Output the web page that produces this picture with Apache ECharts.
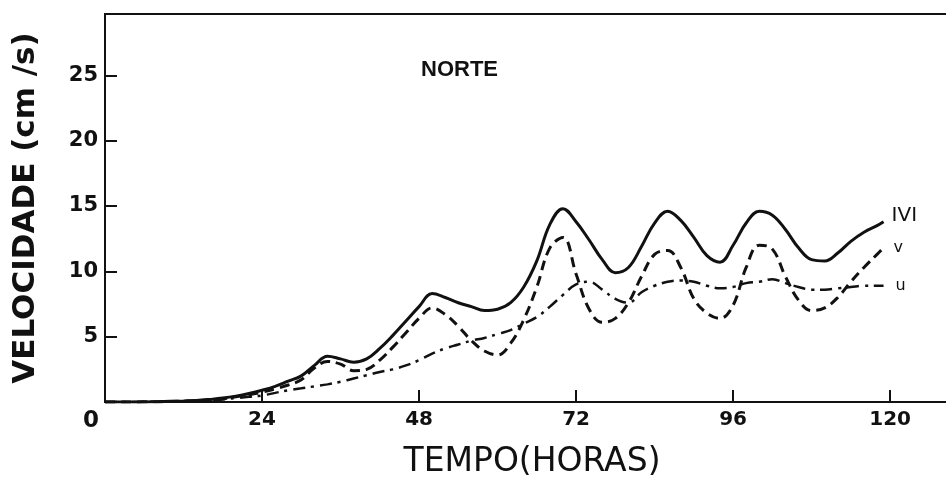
<!DOCTYPE html>
<html>
<head>
<meta charset="utf-8">
<script src="https://cdn.jsdelivr.net/npm/echarts@6/dist/echarts.min.js"></script>
<style>
  html, body { margin: 0; padding: 0; background: #fff; }
  #chart { width: 946px; height: 480px; }
</style>
</head>
<body>
<div id="chart"></div>
<script>
// tempo (horas), read every 2 h off the original figure
const tempo = [0, 2, 4, 6, 8, 10, 12, 14, 16, 18, 20, 22, 24, 26, 28, 30, 32, 34, 36, 38,
  40, 42, 44, 46, 48, 50, 52, 54, 56, 58, 60, 62, 64, 66, 68, 70, 72, 74, 76, 78,
  80, 82, 84, 86, 88, 90, 92, 94, 96, 98, 100, 102, 104, 106, 108, 110, 112, 114, 116, 118, 119];

// |V| (solid)
const velAbs = [0, 0, 0, 0, 0.02, 0.05, 0.08, 0.12, 0.2, 0.3, 0.45, 0.65, 0.9, 1.2, 1.6, 2.0, 2.8, 3.5, 3.3, 3.05,
  3.3, 4.1, 5.1, 6.2, 7.3, 8.3, 8.0, 7.6, 7.3, 7.0, 7.1, 7.6, 8.8, 10.8, 13.6, 14.8, 13.8, 12.4, 10.9, 9.9,
  10.3, 11.9, 13.7, 14.6, 13.9, 12.6, 11.2, 10.7, 12.0, 13.7, 14.6, 14.3, 13.2, 11.8, 10.9, 10.8, 11.4, 12.3, 13.0, 13.5, 13.8];

// v (dashed)
const velV = [0, 0, 0, 0.01, 0.02, 0.04, 0.06, 0.1, 0.15, 0.25, 0.4, 0.55, 0.75, 1.0, 1.3, 1.7, 2.6, 3.1, 2.9, 2.4,
  2.5, 3.2, 4.2, 5.3, 6.4, 7.2, 6.7, 5.8, 4.7, 3.9, 3.6, 4.5, 6.3, 8.8, 11.8, 12.6, 9.8, 7.1, 6.1, 6.4,
  7.6, 9.6, 11.3, 11.6, 10.3, 7.9, 6.8, 6.4, 7.4, 10.3, 12.0, 11.7, 9.6, 7.8, 7.0, 7.2, 8.0, 9.2, 10.3, 11.3, 11.8];

// u (dash-dot)
const velU = [0, 0, 0, 0.01, 0.02, 0.04, 0.06, 0.1, 0.15, 0.2, 0.3, 0.4, 0.5, 0.7, 0.9, 1.05, 1.2, 1.35, 1.55, 1.8,
  2.05, 2.3, 2.5, 2.8, 3.2, 3.7, 4.1, 4.4, 4.7, 4.9, 5.2, 5.5, 6.0, 6.5, 7.3, 8.2, 9.0, 9.2, 8.6, 7.9,
  7.6, 8.4, 8.9, 9.2, 9.3, 9.2, 8.9, 8.7, 8.8, 9.1, 9.2, 9.4, 9.1, 8.8, 8.6, 8.6, 8.7, 8.8, 8.9, 8.9, 8.9];

const ink = "#111";

function pares(ys) {
  return tempo.map((t, i) => [t, ys[i]]);
}

const chart = echarts.init(document.getElementById("chart"));
chart.setOption({
  backgroundColor: "#fff",
  animation: false,
  grid: {
    left: 105,
    right: -3,
    top: 14,
    bottom: 78,
    outerBoundsMode: "none",
    containLabel: false,
    show: true,
    borderColor: ink,
    borderWidth: 2,
  },
  title: {
    text: "NORTE",
    left: 416,
    top: 54,
    textStyle: { fontFamily: "Liberation Sans", fontWeight: "bold", fontSize: 22, color: ink },
  },
  xAxis: {
    type: "value",
    min: 0,
    max: 129,
    interval: 24,
    name: "TEMPO(HORAS)",
    nameLocation: "middle",
    nameGap: 44,
    nameTextStyle: { fontFamily: "DejaVu Sans", fontSize: 33, color: ink, padding: [0, 0, 0, 10] },
    splitLine: { show: false },
    axisLine: { lineStyle: { color: ink, width: 2 } },
    axisTick: { inside: true, length: 12, lineStyle: { color: ink, width: 2 } },
    axisLabel: {
      margin: 8,
      color: ink,
      fontFamily: "DejaVu Sans",
      fontWeight: "bold",
      fontSize: 20,
      showMaxLabel: false,
      formatter(v) {
        if (v % 24 !== 0) return "";
        return v === 0 ? "{z|0}" : String(v);
      },
      rich: { z: { fontFamily: "DejaVu Sans", fontWeight: "bold", fontSize: 23, color: ink, padding: [0, 28, 0, 0] } },
    },
  },
  yAxis: {
    type: "value",
    min: 0,
    max: 29.7,
    interval: 5,
    name: "VELOCIDADE (cm /s)",
    nameLocation: "middle",
    nameGap: 64,
    nameTextStyle: { fontFamily: "DejaVu Sans", fontWeight: "bold", fontSize: 31, color: ink },
    splitLine: { show: false },
    axisLine: { lineStyle: { color: ink, width: 2 } },
    axisTick: { inside: true, length: 12, lineStyle: { color: ink, width: 2 } },
    axisLabel: {
      margin: 7,
      color: ink,
      fontFamily: "DejaVu Sans",
      fontWeight: "bold",
      fontSize: 21,
      formatter(v) {
        return v === 0 || v % 5 !== 0 ? "" : String(v);
      },
    },
  },
  series: [
    {
      name: "|V|",
      type: "line",
      smooth: 0.4,
      showSymbol: false,
      data: pares(velAbs),
      lineStyle: { color: ink, width: 3 },
      endLabel: {
        show: true,
        formatter: "IVI",
        distance: 8,
        offset: [0, -6],
        color: ink,
        fontFamily: "DejaVu Sans",
        fontSize: 20,
      },
    },
    {
      name: "v",
      type: "line",
      smooth: 0.4,
      showSymbol: false,
      data: pares(velV),
      lineStyle: { color: ink, width: 3, type: [10, 6] },
      endLabel: {
        show: true,
        formatter: "v",
        distance: 10,
        color: ink,
        fontFamily: "DejaVu Sans",
        fontSize: 16,
      },
    },
    {
      name: "u",
      type: "line",
      smooth: 0.4,
      showSymbol: false,
      data: pares(velU),
      lineStyle: { color: ink, width: 2.5, type: [12, 6, 3, 6] },
      endLabel: {
        show: true,
        formatter: "u",
        distance: 12,
        color: ink,
        fontFamily: "DejaVu Sans",
        fontSize: 16,
      },
    },
  ],
});
</script>
</body>
</html>
